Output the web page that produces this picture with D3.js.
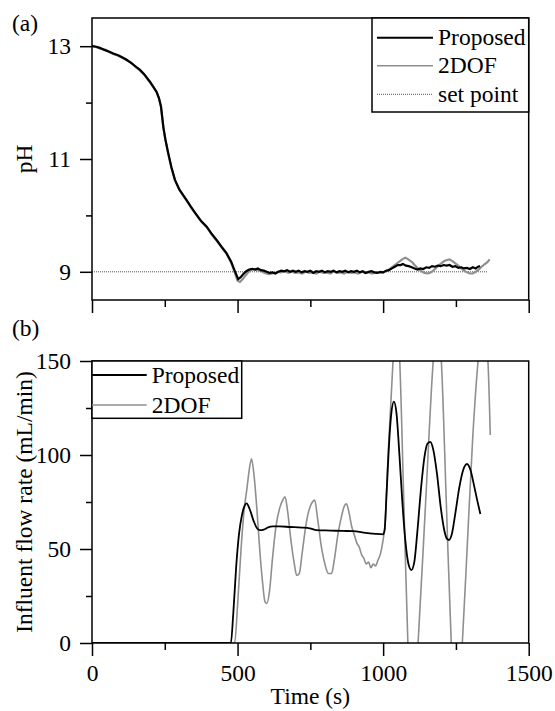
<!DOCTYPE html>
<html>
<head>
<meta charset="utf-8">
<script src="https://cdn.jsdelivr.net/npm/d3@7"></script>
<style>
  body { margin: 0; background: #fff; }
  svg { display: block; }
  svg text { font-family: "Liberation Serif", "Times New Roman", serif; fill: #000; }
</style>
</head>
<body>
<div id="chart"></div>
<script>
// ---- data: [time (s), value] ----
const phProposed = [
  [0, 13.00], [15, 12.99], [27, 12.97], [45, 12.93], [60, 12.90], [73, 12.87], [90, 12.84], [105, 12.80],
  [119, 12.76], [135, 12.70], [150, 12.64], [165, 12.58], [180, 12.50], [199, 12.37], [212, 12.27], [222, 12.19],
  [230, 12.08], [237, 11.93], [241, 11.75], [245, 11.57], [252, 11.35], [262, 11.10], [273, 10.85], [285, 10.63],
  [300, 10.46], [312, 10.37], [325, 10.27], [340, 10.15], [355, 10.04], [375, 9.90], [394, 9.80], [410, 9.68],
  [430, 9.55], [447, 9.43], [462, 9.33], [478, 9.18], [490, 9.02], [502, 8.87], [510, 8.90], [520, 8.96],
  [530, 9.01], [540, 9.04], [550, 9.05], [560, 9.04], [570, 9.06], [580, 9.03], [590, 9.02], [600, 9.00],
  [610, 8.98], [620, 8.99], [630, 8.97], [640, 9.00], [650, 9.02], [660, 9.01], [670, 9.03], [680, 9.00],
  [690, 9.02], [700, 9.00], [710, 9.02], [720, 8.99], [730, 9.01], [740, 9.00], [750, 9.02], [760, 8.98],
  [770, 9.01], [780, 9.00], [790, 9.02], [800, 8.99], [810, 9.01], [820, 9.00], [830, 9.02], [840, 8.99],
  [850, 9.01], [860, 9.00], [870, 9.02], [880, 8.99], [890, 9.01], [900, 9.00], [910, 9.02], [920, 8.99],
  [930, 9.01], [940, 8.98], [950, 9.00], [960, 9.01], [970, 8.99], [980, 8.98], [990, 9.00], [1000, 8.99],
  [1010, 9.02], [1020, 9.03], [1030, 9.06], [1040, 9.09], [1050, 9.12], [1060, 9.12], [1068, 9.14], [1078, 9.11],
  [1088, 9.10], [1098, 9.08], [1108, 9.06], [1118, 9.04], [1128, 9.06], [1138, 9.05], [1148, 9.08], [1158, 9.07],
  [1168, 9.10], [1178, 9.09], [1188, 9.11], [1198, 9.10], [1208, 9.12], [1218, 9.11], [1228, 9.12], [1238, 9.09],
  [1248, 9.10], [1258, 9.07], [1268, 9.08], [1278, 9.06], [1288, 9.07], [1298, 9.05], [1308, 9.08], [1318, 9.06],
  [1326, 9.09], [1333, 9.10]
];

const ph2dof = [
  [0, 13.01], [15, 12.98], [27, 12.96], [45, 12.94], [60, 12.89], [73, 12.86], [90, 12.83], [105, 12.79],
  [119, 12.75], [135, 12.71], [150, 12.63], [165, 12.57], [180, 12.49], [199, 12.36], [212, 12.26], [222, 12.18],
  [230, 12.07], [237, 11.92], [241, 11.74], [245, 11.56], [252, 11.34], [262, 11.09], [273, 10.84], [285, 10.62],
  [300, 10.45], [312, 10.36], [325, 10.26], [340, 10.14], [355, 10.03], [375, 9.89], [394, 9.79], [410, 9.67],
  [430, 9.54], [447, 9.42], [462, 9.32], [478, 9.16], [490, 8.99], [500, 8.84], [508, 8.82], [518, 8.87],
  [528, 8.94], [538, 9.00], [548, 9.04], [558, 9.05], [568, 9.03], [578, 9.02], [588, 8.99], [598, 8.97],
  [608, 8.96], [618, 8.97], [628, 8.98], [638, 9.00], [650, 8.99], [662, 9.01], [674, 8.98], [686, 9.00],
  [698, 8.98], [710, 8.99], [722, 8.97], [734, 9.00], [746, 8.98], [758, 8.99], [770, 8.97], [782, 9.00],
  [794, 8.98], [806, 8.99], [818, 8.97], [830, 9.00], [842, 8.98], [854, 8.99], [866, 8.97], [878, 9.00],
  [890, 8.98], [902, 8.99], [914, 8.97], [926, 9.00], [938, 8.98], [950, 8.99], [962, 8.97], [974, 8.99],
  [986, 8.98], [1000, 8.99], [1010, 9.01], [1020, 9.04], [1030, 9.08], [1040, 9.12], [1050, 9.16], [1060, 9.20],
  [1068, 9.23], [1076, 9.25], [1084, 9.23], [1092, 9.20], [1100, 9.17], [1108, 9.12], [1116, 9.08], [1124, 9.04],
  [1132, 9.01], [1142, 8.98], [1152, 8.97], [1160, 8.98], [1170, 9.01], [1180, 9.06], [1190, 9.11], [1200, 9.15],
  [1210, 9.19], [1220, 9.21], [1228, 9.22], [1238, 9.19], [1248, 9.15], [1258, 9.11], [1268, 9.06], [1278, 9.02],
  [1288, 8.99], [1298, 8.97], [1308, 8.97], [1318, 9.00], [1328, 9.04], [1338, 9.09], [1348, 9.13], [1358, 9.17],
  [1366, 9.22]
];

const setPoint = [[0, 9], [1360, 9]];

const flowProposed = [
  [0, 0], [477, 0], [485, 15], [495, 40], [505, 58], [515, 68], [524, 73], [531, 74.3], [542, 71],
  [555, 65], [567, 61], [577, 60], [590, 60.3], [605, 61.5], [620, 62], [645, 62], [680, 61.7], [720, 61.4],
  [748, 61], [771, 60], [820, 59.8], [860, 59.6], [897, 59.5], [940, 58.6], [975, 58], [1000, 57.8],
  [1005, 60], [1012, 80], [1020, 105], [1028, 122], [1037, 128.4], [1046, 122], [1056, 100], [1066, 75],
  [1076, 55], [1087, 42], [1097, 38.8], [1107, 43], [1118, 60], [1130, 82], [1142, 99], [1152, 106],
  [1162, 107], [1172, 103], [1185, 90], [1198, 72], [1210, 60], [1219, 55.5], [1226, 54.8], [1236, 58],
  [1248, 69], [1262, 83], [1275, 92], [1288, 95.2], [1300, 92], [1312, 84], [1323, 76], [1334, 68.6]
];

const flow2dof = [
  [0, 0], [490, 0], [500, 20], [512, 50], [522, 70], [532, 82], [540, 92], [548, 98], [556, 90],
  [566, 72], [576, 50], [586, 32], [594, 22], [600, 21], [610, 28], [620, 45], [632, 62], [645, 72],
  [655, 76], [663, 77.8], [672, 70], [683, 55], [695, 42], [703, 36], [712, 37], [722, 48], [735, 63],
  [748, 72], [757, 75], [765, 76], [775, 66], [787, 52], [800, 42], [812, 37], [823, 37], [832, 44],
  [845, 58], [858, 68], [867, 73], [874, 74], [882, 70], [892, 62], [902, 57], [910, 53], [918, 51],
  [926, 47], [934, 45], [942, 42], [950, 43], [958, 40], [966, 42], [974, 41], [982, 44], [990, 47],
  [1000, 55], [1006, 62], [1017, 100], [1034, 150], [1045, 175], [1057, 150], [1071, 75], [1085, 0],
  [1102, -40], [1120, 0], [1146, 75], [1172, 150], [1186, 175], [1200, 150], [1217, 75], [1234, 0],
  [1253, -40], [1272, 0], [1290, 55], [1308, 110], [1326, 150], [1343, 175], [1360, 150], [1368, 110.6]
];

const xMajor = [0, 500, 1000, 1500];
const xMinor = [250, 750, 1250];
const phMajor = [9, 11, 13];
const phMinor = [10, 12];
const flowMajor = [0, 50, 100, 150];
const flowMinor = [25, 75, 125];

// ---- layout ----
const width = 555, height = 711;
const left = 92, right = 528.7;
const topA = 18, botA = 300;
const topB = 361, botB = 643;
const black = "#000", gray = "#8f8f8f";
const serif = '"Liberation Serif", "Times New Roman", serif';
const fs = 23.5;

const svg = d3.select("#chart").append("svg")
  .attr("width", width).attr("height", height)
  .style("font-family", serif);

const x = d3.scaleLinear().domain([0, 1500]).range([left, right]);
const yA = d3.scaleLinear().domain([8.5, 13.5]).range([botA, topA]);
const yB = d3.scaleLinear().domain([0, 150]).range([botB, topB]);

svg.append("clipPath").attr("id", "clipB")
  .append("rect").attr("x", left).attr("y", topB)
  .attr("width", right - left).attr("height", botB - topB);

const lineA = d3.line().x(d => x(d[0])).y(d => yA(d[1]));
const lineB = d3.line().x(d => x(d[0])).y(d => yB(d[1])).curve(d3.curveMonotoneX);

// ---- panel (a) ----
svg.append("path").datum(setPoint)
  .attr("fill", "none").attr("stroke", "#555").attr("stroke-width", 1)
  .attr("stroke-dasharray", "1,1").attr("d", lineA);
svg.append("path").datum(ph2dof)
  .attr("fill", "none").attr("stroke", gray).attr("stroke-width", 2.2).attr("d", lineA);
svg.append("path").datum(phProposed)
  .attr("fill", "none").attr("stroke", black).attr("stroke-width", 2.2).attr("d", lineA);

// ---- panel (b) ----
const gB = svg.append("g").attr("clip-path", "url(#clipB)");
gB.append("path").datum(flow2dof)
  .attr("fill", "none").attr("stroke", gray).attr("stroke-width", 1.6).attr("d", lineB);
gB.append("path").datum(flowProposed)
  .attr("fill", "none").attr("stroke", black).attr("stroke-width", 1.8).attr("d", lineB);

// ---- frames ----
[[topA, botA], [topB, botB]].forEach(([t, b]) => {
  svg.append("rect")
    .attr("x", left).attr("y", t).attr("width", right - left).attr("height", b - t)
    .attr("fill", "none").attr("stroke", black).attr("stroke-width", 1.5);
});

// ---- axes ----
function addAxis(axis, tx, ty) {
  const g = svg.append("g").attr("transform", `translate(${tx},${ty})`).call(axis);
  g.attr("font-family", serif).attr("font-size", fs);
  g.select(".domain").remove();
  g.selectAll(".tick line").attr("stroke", black).attr("stroke-width", 1.5);
  g.selectAll("text").attr("fill", black);
  return g;
}

const fmt = d3.format("d");

// x ticks, panel (a) has no labels
addAxis(d3.axisBottom(x).tickValues(xMajor).tickSize(13).tickFormat(""), 0, botA);
addAxis(d3.axisBottom(x).tickValues(xMinor).tickSize(7).tickFormat(""), 0, botA);
addAxis(d3.axisBottom(x).tickValues(xMajor).tickSize(13).tickPadding(8).tickFormat(fmt), 0, botB);
addAxis(d3.axisBottom(x).tickValues(xMinor).tickSize(7).tickFormat(""), 0, botB);

addAxis(d3.axisLeft(yA).tickValues(phMajor).tickSize(12).tickPadding(9).tickFormat(fmt), left, 0);
addAxis(d3.axisLeft(yA).tickValues(phMinor).tickSize(6).tickFormat(""), left, 0);
addAxis(d3.axisLeft(yB).tickValues(flowMajor).tickSize(12).tickPadding(9).tickFormat(fmt), left, 0);
addAxis(d3.axisLeft(yB).tickValues(flowMinor).tickSize(6).tickFormat(""), left, 0);

// ---- labels ----
svg.append("text").attr("x", 12).attr("y", 31).attr("font-size", fs).text("(a)");
svg.append("text").attr("x", 12).attr("y", 336).attr("font-size", fs).text("(b)");

svg.append("text")
  .attr("transform", `translate(32,${(topA + botA) / 2}) rotate(-90)`)
  .attr("text-anchor", "middle").attr("font-size", fs).text("pH");
svg.append("text")
  .attr("transform", `translate(32,${(topB + botB) / 2}) rotate(-90)`)
  .attr("text-anchor", "middle").attr("font-size", fs).text("Influent flow rate (mL/min)");
svg.append("text")
  .attr("x", (left + right) / 2).attr("y", 704)
  .attr("text-anchor", "middle").attr("font-size", fs).text("Time (s)");

// ---- legends ----
function legend(x0, y0, w, h, items) {
  svg.append("rect").attr("x", x0).attr("y", y0).attr("width", w).attr("height", h)
    .attr("fill", "#fff").attr("stroke", black).attr("stroke-width", 1.5);
  items.forEach(it => {
    svg.append("line")
      .attr("x1", it.x1).attr("x2", it.x2).attr("y1", it.y).attr("y2", it.y)
      .attr("stroke", it.color).attr("stroke-width", it.w)
      .attr("stroke-dasharray", it.dash || null);
    svg.append("text").attr("x", it.x2 + 5).attr("y", it.y).attr("dy", "0.33em")
      .attr("font-size", fs).text(it.label);
  });
}

legend(372, topA, right - 372, 94, [
  { label: "Proposed", color: black, w: 2, y: 37.7, x1: 377, x2: 433 },
  { label: "2DOF", color: gray, w: 1.6, y: 65.7, x1: 377, x2: 433 },
  { label: "set point", color: "#555", w: 1, dash: "1,1", y: 94.3, x1: 377, x2: 433 }
]);

legend(left, topB, 241.7 - left, 57.3, [
  { label: "Proposed", color: black, w: 2, y: 375, x1: left, x2: 146.7 },
  { label: "2DOF", color: gray, w: 1.6, y: 405, x1: left, x2: 146.7 }
]);
</script>
</body>
</html>
